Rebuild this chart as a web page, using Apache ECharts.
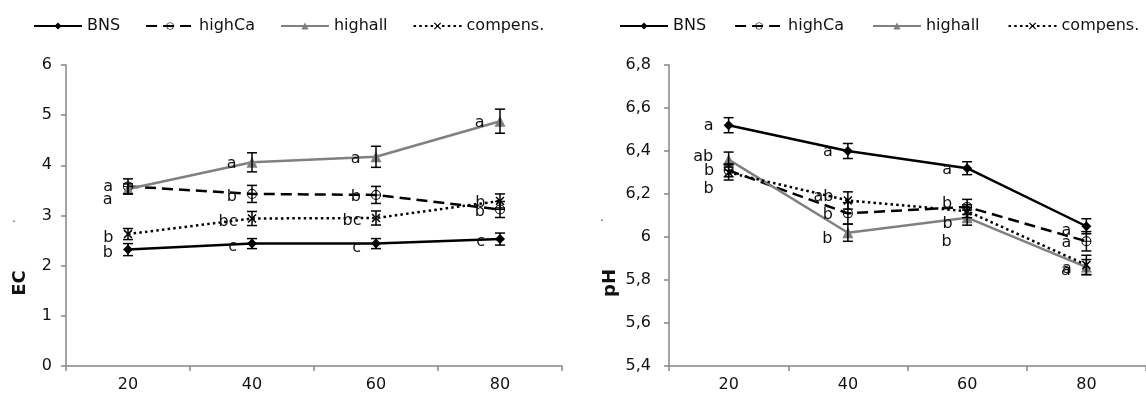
<!DOCTYPE html>
<html lang="en">
<head>
<meta charset="utf-8">
<title>EC / pH</title>
<script src="https://cdn.jsdelivr.net/npm/echarts@6/dist/echarts.min.js"></script>
</head>
<body style="margin:0;background:#fff">
<div id="chart" style="width:1146px;height:405px;"></div>
<script type="text/javascript">
// depth categories and series names
var depths = ['20', '40', '60', '80'];
var names = ['BNS', 'highCa', 'highall', 'compens.'];

// EC (left chart)
var ecBNS = [2.32, 2.44, 2.44, 2.53];
var ecHighCa = [3.58, 3.43, 3.41, 3.12];
var ecHighall = [3.53, 4.06, 4.17, 4.88];
var ecCompens = [2.63, 2.94, 2.95, 3.29];
var ecErrBNS = [0.12, 0.1, 0.1, 0.12];
var ecErrHighCa = [0.15, 0.17, 0.17, 0.16];
var ecErrHighall = [0.1, 0.19, 0.21, 0.24];
var ecErrCompens = [0.11, 0.14, 0.14, 0.14];
var ecLetBNS = ['b', 'c', 'c', 'c'];
var ecLetHighCa = ['a', 'b', 'b', 'b'];
var ecLetHighall = ['a', 'a', 'a', 'a'];
var ecLetCompens = ['b', 'bc', 'bc', 'b'];

// pH (right chart)
var phBNS = [6.52, 6.40, 6.32, 6.05];
var phHighCa = [6.31, 6.11, 6.14, 5.98];
var phHighall = [6.36, 6.02, 6.09, 5.86];
var phCompens = [6.30, 6.17, 6.12, 5.87];
var phErrBNS = [0.035, 0.035, 0.03, 0.035];
var phErrHighCa = [0.03, 0.05, 0.035, 0.045];
var phErrHighall = [0.035, 0.04, 0.035, 0.035];
var phErrCompens = [0.035, 0.04, 0.03, 0.045];
var phLetBNS = ['a', 'a', 'a', 'a'];
var phLetHighCa = ['b', 'b', 'b', 'a'];
var phLetHighall = ['ab', 'b', 'b', 'a'];
var phLetCompens = ['b', 'ab', 'b', 'a'];

// vertical nudges of the letters (px), so they don't sit on top of each other
var ecShift = [[3, 3, 4, 3], [0, 3, 2, 2], [11, 2, 2, 2], [4, 3, 3, 2]];
var phShift = [[1, 1, 2, 5], [18, 1, -3, 2], [-3, 6, 24, 4], [-2, -4, 13, 4]];

var font = 'DejaVu Sans';
var axisGray = '#868686';
var ringSym = 'path://M0,10 A10,10 0 1,1 20,10 A10,10 0 1,1 0,10 Z M2,10 A8,8 0 1,0 18,10 A8,8 0 1,0 2,10 Z M0,9 L20,9 L20,11 L0,11 Z';
var crossSym = 'path://M0,1.2 L1.2,0 L10,8.8 L8.8,10 Z M8.8,0 L10,1.2 L1.2,10 L0,8.8 Z';

var styles = [
  {color: '#000', line: {color: '#000', width: 2.5, type: 'solid'}, symbol: 'diamond', size: 10},
  {color: '#000', line: {color: '#000', width: 2.5, type: [11, 6]}, symbol: ringSym, size: 10},
  {color: '#808080', line: {color: '#808080', width: 2.5, type: 'solid'}, symbol: 'triangle', size: 11},
  {color: '#000', line: {color: '#000', width: 2.5, type: [2.5, 3.2]}, symbol: crossSym, size: 9}
];

function lineSeries(k, idx, vals, letters, shift) {
  var s = styles[k];
  return {
    name: names[k],
    type: 'line',
    xAxisIndex: idx,
    yAxisIndex: idx,
    z: 3,
    symbol: s.symbol,
    symbolSize: s.size,
    showSymbol: true,
    itemStyle: {color: s.color, borderWidth: 0},
    lineStyle: s.line,
    label: {
      show: true,
      position: 'left',
      distance: 10,
      color: '#111',
      fontSize: 16,
      fontFamily: font
    },
    data: vals.map(function (v, i) {
      return {
        value: v,
        label: {formatter: letters[i], offset: [0, shift[i]]}
      };
    })
  };
}

function errorBars(idx, vals, errs) {
  return {
    type: 'custom',
    xAxisIndex: idx,
    yAxisIndex: idx,
    z: 4,
    silent: true,
    data: vals.map(function (v, i) { return [i, v - errs[i], v + errs[i]]; }),
    renderItem: function (params, api) {
      var lo = api.coord([api.value(0), api.value(1)]);
      var hi = api.coord([api.value(0), api.value(2)]);
      var w = 5;
      var st = {stroke: '#000', lineWidth: 1.5};
      return {
        type: 'group',
        children: [
          {type: 'line', shape: {x1: lo[0], y1: lo[1], x2: hi[0], y2: hi[1]}, style: st},
          {type: 'line', shape: {x1: lo[0] - w, y1: lo[1], x2: lo[0] + w, y2: lo[1]}, style: st},
          {type: 'line', shape: {x1: hi[0] - w, y1: hi[1], x2: hi[0] + w, y2: hi[1]}, style: st}
        ]
      };
    }
  };
}

function xAxis(idx) {
  return {
    type: 'category',
    gridIndex: idx,
    data: depths,
    boundaryGap: true,
    axisLine: {lineStyle: {color: axisGray, width: 1.5}},
    axisTick: {show: true, length: 5, lineStyle: {color: axisGray, width: 1.5}},
    axisLabel: {color: '#111', fontSize: 16, margin: 11, fontFamily: font},
    splitLine: {show: false}
  };
}

function legend(left, gap) {
  return {
    left: left,
    top: 13,
    data: names,
    itemWidth: 48,
    itemHeight: 9,
    itemGap: gap,
    selectedMode: false,
    textStyle: {color: '#111', fontSize: 16, fontFamily: font}
  };
}

var myChart = echarts.init(document.getElementById('chart'));

var option = {
  animation: false,
  backgroundColor: '#fff',
  legend: [legend(28, 25), legend(614, 28)],
  grid: [
    {left: 66, top: 65, width: 496, height: 301},
    {left: 669, top: 65, width: 481, height: 301}
  ],
  xAxis: [xAxis(0), xAxis(1)],
  yAxis: [
    {
      type: 'value', gridIndex: 0, min: 0, max: 6, interval: 1,
      axisLine: {show: true, lineStyle: {color: axisGray, width: 1.5}},
      axisTick: {show: true, length: 5, lineStyle: {color: axisGray, width: 1.5}},
      axisLabel: {color: '#111', fontSize: 16, margin: 14, fontFamily: font},
      splitLine: {show: false}
    },
    {
      type: 'value', gridIndex: 1, min: 5.4, max: 6.8, interval: 0.2,
      axisLine: {show: true, lineStyle: {color: axisGray, width: 1.5}},
      axisTick: {show: true, length: 5, lineStyle: {color: axisGray, width: 1.5}},
      axisLabel: {
        color: '#111', fontSize: 16, margin: 18, fontFamily: font,
        formatter: function (v) { return String(Math.round(v * 10) / 10).replace('.', ','); }
      },
      splitLine: {show: false}
    }
  ],
  graphic: [
    {type: 'text', x: 20, y: 283, rotation: Math.PI / 2,
     style: {text: 'EC', fontSize: 18, fontWeight: 'bold', fill: '#111', align: 'center', verticalAlign: 'middle', fontFamily: font}},
    {type: 'text', x: 610, y: 283, rotation: Math.PI / 2,
     style: {text: 'pH', fontSize: 18, fontWeight: 'bold', fill: '#111', align: 'center', verticalAlign: 'middle', fontFamily: font}},
    {type: 'text', x: 14, y: 219, style: {text: '.', fontSize: 12, fill: '#333', align: 'center', verticalAlign: 'middle'}},
    {type: 'text', x: 602, y: 218, style: {text: '.', fontSize: 12, fill: '#333', align: 'center', verticalAlign: 'middle'}}
  ],
  series: [
    lineSeries(0, 0, ecBNS, ecLetBNS, ecShift[0]),
    lineSeries(1, 0, ecHighCa, ecLetHighCa, ecShift[1]),
    lineSeries(2, 0, ecHighall, ecLetHighall, ecShift[2]),
    lineSeries(3, 0, ecCompens, ecLetCompens, ecShift[3]),
    errorBars(0, ecBNS, ecErrBNS),
    errorBars(0, ecHighCa, ecErrHighCa),
    errorBars(0, ecHighall, ecErrHighall),
    errorBars(0, ecCompens, ecErrCompens),
    lineSeries(0, 1, phBNS, phLetBNS, phShift[0]),
    lineSeries(1, 1, phHighCa, phLetHighCa, phShift[1]),
    lineSeries(2, 1, phHighall, phLetHighall, phShift[2]),
    lineSeries(3, 1, phCompens, phLetCompens, phShift[3]),
    errorBars(1, phBNS, phErrBNS),
    errorBars(1, phHighCa, phErrHighCa),
    errorBars(1, phHighall, phErrHighall),
    errorBars(1, phCompens, phErrCompens)
  ]
};

myChart.setOption(option);
</script>
</body>
</html>
